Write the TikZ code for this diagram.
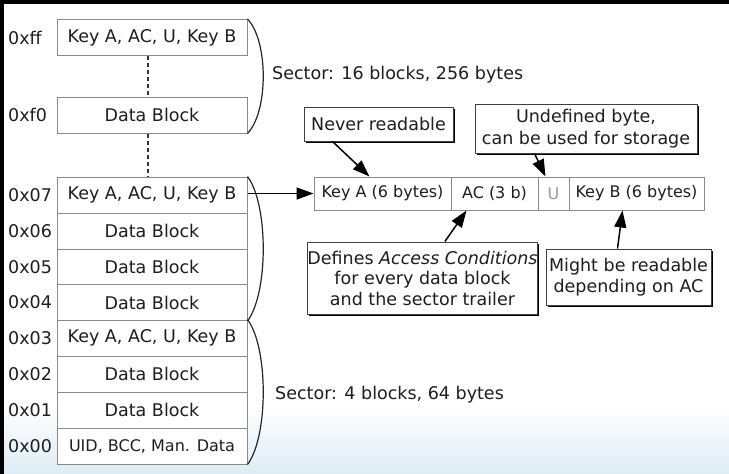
\documentclass[tikz,border=0pt]{standalone}
\usepackage{fontspec}
\setmainfont{DejaVu Sans}
\usetikzlibrary{arrows.meta,shadows,calc}
\definecolor{txt}{HTML}{1E1E1E}
\definecolor{boxline}{HTML}{8A8A8A}
\tikzset{
  mblock/.style={draw=boxline, line width=1pt, fill=white, minimum width=190pt, minimum height=36pt, inner sep=0pt, text=txt, font=\fontsize{17.5}{21}\selectfont},
  tblock/.style={draw=boxline, line width=1pt, fill=white, minimum height=33pt, inner sep=0pt, text=txt, font=\fontsize{16}{19}\selectfont},
  addr/.style={anchor=west, inner sep=0pt, text=txt, font=\fontsize{17.5}{21}\selectfont},
  callout/.style={draw=black!75, line width=1pt, fill=white, inner sep=0pt, align=center, text=txt,
    font=\fontsize{17.5}{21}\selectfont,
    drop shadow={shadow xshift=1.6pt, shadow yshift=-1.6pt, fill=black, opacity=1}},
  sectorlbl/.style={anchor=west, inner sep=0pt, text=txt, font=\fontsize{17.5}{21}\selectfont},
  brace/.style={draw=black!85, line width=1.2pt},
  arr/.style={draw=black, line width=1.5pt, -{Triangle[length=17pt,width=12pt]}},
  dashline/.style={draw=black!80, line width=1.5pt, dash pattern=on 4pt off 3pt},
}
\begin{document}
\begin{tikzpicture}[x=1pt,y=-1pt]
\useasboundingbox (0,0) rectangle (729,474);
% background and screenshot frame
\fill[white] (0,0) rectangle (729,474);
\shade[top color=white, bottom color={rgb,255:red,222;green,236;blue,245}] (0,405) rectangle (729,474);
\fill[black] (0,0) rectangle (729,4);
\fill[black] (0,0) rectangle (4,474);

% upper sector blocks
\node[mblock] (rff) at (152,37.5) {Key A, AC, U, Key B};
\node[mblock] (rf0) at (152,115) {Data Block};
% lower sector blocks
\node[mblock] (r07) at (152,195) {Key A, AC, U, Key B};
\node[mblock] (r06) at (152,231) {Data Block};
\node[mblock] (r05) at (152,267) {Data Block};
\node[mblock] (r04) at (152,302.5) {Data Block};
\node[mblock] (r03) at (152,338) {Key A, AC, U, Key B};
\node[mblock] (r02) at (152,374) {Data Block};
\node[mblock] (r01) at (152,410) {Data Block};
\node[mblock, font=\fontsize{16}{19}\selectfont] (r00) at (152,446) {UID, BCC, Man. Data};

% addresses
\node[addr] (aff) at (8,37.5) {0xff};
\node[addr] (af0) at (8,115) {0xf0};
\node[addr] (a07) at (8,195) {0x07};
\node[addr] (a06) at (8,231) {0x06};
\node[addr] (a05) at (8,267) {0x05};
\node[addr] (a04) at (8,302.5) {0x04};
\node[addr] (a03) at (8,338) {0x03};
\node[addr] (a02) at (8,374) {0x02};
\node[addr] (a01) at (8,410) {0x01};
\node[addr] (a00) at (8,446) {0x00};

% dotted continuation
\draw[dashline] ([xshift=-4pt]rff.south) -- ([xshift=-4pt]rf0.north);
\draw[dashline] ([xshift=-4pt]rf0.south) -- ([xshift=-4pt]r07.north);

% braces
\draw[brace] (rff.north east) .. controls ($(rff.north east)+(21,22)$) and ($(rf0.south east)+(21,-22)$) .. (rf0.south east);
\draw[brace] (r07.north east) .. controls ($(r07.north east)+(21,28)$) and ($(r04.south east)+(21,-28)$) .. (r04.south east);
\draw[brace] (r03.north east) .. controls ($(r03.north east)+(21,28)$) and ($(r00.south east)+(21,-28)$) .. (r00.south east);

\node[sectorlbl] (s1) at (272,75) {Sector: 16 blocks, 256 bytes};
\node[sectorlbl] (s2) at (275,395) {Sector: 4 blocks, 64 bytes};

% sector trailer
\node[tblock, minimum width=137pt] (keyA) at (382.5,193.5) {Key A (6 bytes)};
\node[tblock, minimum width=87pt] (ac) at (494.5,193.5) {AC (3 b)};
\node[tblock, minimum width=31pt, text=black!40] (u) at (553.5,193.5) {U};
\node[tblock, minimum width=135pt] (keyB) at (636.5,193.5) {Key B (6 bytes)};

\draw[arr] (r07.east |- keyA.west) -- (keyA.west);

% callouts
\node[callout, minimum width=149pt, minimum height=34pt] (never) at (378.5,124) {Never readable};
\node[callout, minimum width=222pt, minimum height=49pt, font=\fontsize{17.5}{22}\selectfont] (undef) at (586,128.5) {Undefined byte,\\can be used for storage};
\node[callout, minimum width=227pt, minimum height=72pt, font=\fontsize{17.5}{20.5}\selectfont] (defs) at (422.5,278) {Defines \textit{Access Conditions}\\for every data block\\and the sector trailer};
\node[callout, minimum width=165pt, minimum height=56pt, font=\fontsize{17.5}{21}\selectfont] (might) at (628.5,277) {Might be readable\\depending on AC};

\draw[arr] ([xshift=29pt]never.south west) -- ([xshift=56pt]keyA.north west);
\draw[arr] ([xshift=60pt]undef.south west) -- ([xshift=8pt]u.north west);
\draw[arr] ([xshift=138pt]defs.north west) -- ([xshift=16pt]ac.south west);
\draw[arr] ([xshift=72pt]might.north west) -- ([xshift=54pt]keyB.south west);
\end{tikzpicture}
\end{document}
